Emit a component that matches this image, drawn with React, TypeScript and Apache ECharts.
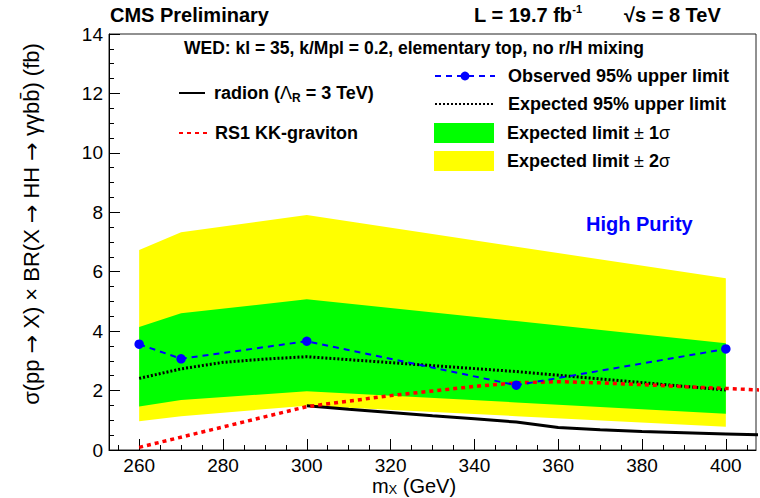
import React, { useEffect, useRef } from 'react';
import * as echarts from 'echarts';

// ---- data ----
const massPoints = [260, 270, 300, 350, 400];
const observed = [3.56, 3.07, 3.66, 2.18, 3.4];
const band2Low = [0.97, 1.14, 1.49, 1.14, 0.78];
const band2High = [6.73, 7.33, 7.91, 6.84, 5.78];
const band1Low = [1.46, 1.68, 1.98, 1.6, 1.22];
const band1High = [4.14, 4.6, 5.07, 4.34, 3.59];
const expectedMass = [260, 270, 280, 290, 300, 350, 400];
const expected = [2.41, 2.73, 2.95, 3.06, 3.14, 2.64, 2.02];
const radionMass = [300, 310, 320, 330, 340, 350, 355, 360, 370, 380, 390, 400, 410];
const radion = [1.49, 1.37, 1.26, 1.15, 1.05, 0.94, 0.85, 0.76, 0.68, 0.62, 0.58, 0.54, 0.5];
const gravitonMass = [260, 300, 320, 340, 350, 360, 370, 380, 390, 400, 410];
const graviton = [0.09, 1.46, 1.83, 2.14, 2.26, 2.3, 2.26, 2.2, 2.13, 2.07, 2.01];

const xMajorTicks = [260, 280, 300, 320, 340, 360, 380, 400];
const xMinorTicks = [255, 265, 270, 275, 285, 290, 295, 305, 310, 315, 325, 330, 335, 345, 350, 355, 365, 370, 375, 385, 390, 395, 405];

const FONT = '"Liberation Sans", Arial, Helvetica, sans-serif';
const ARROW_FONT = '"DejaVu Sans", sans-serif';

const pairs = (xs: number[], ys: number[]) => xs.map((x, i) => [x, ys[i]]);

function bandSeries(name: string, low: number[], high: number[], color: string) {
  return {
    name,
    type: 'custom',
    silent: true,
    clip: true,
    itemStyle: { color },
    encode: { x: 0, y: [1, 2] },
    data: massPoints.map((x, i) => [x, low[i], high[i]]),
    renderItem: (params: any, api: any) => {
      if (params.dataIndex !== 0) return null;
      const up = massPoints.map((x, i) => api.coord([x, high[i]]));
      const lo = massPoints.map((x, i) => api.coord([x, low[i]])).reverse();
      return {
        type: 'polygon',
        shape: { points: up.concat(lo) },
        style: { fill: color, stroke: null },
      };
    },
  };
}

export default function App() {
  const ref = useRef<HTMLDivElement>(null);

  useEffect(() => {
    if (!ref.current) return;
    const chart = echarts.init(ref.current, null, { renderer: 'svg' });

    const legendText = {
      fontFamily: FONT,
      fontSize: 18,
      fontWeight: 'bold',
      color: '#000',
      rich: {
        n: { fontFamily: FONT, fontSize: 18, fontWeight: 'normal', color: '#000', lineHeight: 22 },
        b: { fontFamily: FONT, fontSize: 18, fontWeight: 'bold', color: '#000', lineHeight: 22 },
        sub: { fontFamily: FONT, fontSize: 12, fontWeight: 'bold', color: '#000', lineHeight: 12, verticalAlign: 'bottom' },
      },
    };

    const option: any = {
      animation: false,
      backgroundColor: '#fff',
      grid: {
        left: 109,
        right: 4,
        top: 34,
        bottom: 48,
        show: true,
        borderColor: '#222',
        borderWidth: 1,
        containLabel: false,
        outerBoundsMode: 'none',
      },
      xAxis: [
        {
          type: 'value',
          min: 252.8,
          max: 407.2,
          position: 'bottom',
          axisLine: { show: true, lineStyle: { color: '#000', width: 1 } },
          axisTick: { show: true, inside: true, length: 11, customValues: xMajorTicks, lineStyle: { color: '#000' } },
          axisLabel: { customValues: xMajorTicks, margin: 6, fontSize: 19, color: '#000', fontFamily: FONT },
          splitLine: { show: false },
        },
        {
          type: 'value',
          min: 252.8,
          max: 407.2,
          position: 'bottom',
          axisLine: { show: false },
          axisTick: { show: true, inside: true, length: 5, customValues: xMinorTicks, lineStyle: { color: '#000' } },
          axisLabel: { show: false },
          splitLine: { show: false },
        },
      ],
      yAxis: {
        type: 'value',
        min: 0,
        max: 14,
        interval: 2,
        axisLine: { show: true, lineStyle: { color: '#000', width: 1 } },
        axisTick: { show: true, inside: true, length: 11, lineStyle: { color: '#000' } },
        minorTick: { show: true, splitNumber: 4, length: 5, lineStyle: { color: '#000' } },
        axisLabel: { margin: 6, fontSize: 19, color: '#000', fontFamily: FONT },
        splitLine: { show: false },
        minorSplitLine: { show: false },
      },
      legend: [
        {
          left: 178, top: 84, padding: 0, itemWidth: 26, itemHeight: 16, selectedMode: false,
          data: [{ name: 'radion', itemStyle: { opacity: 0 } }],
          formatter: () => '{b|radion (}{n|Λ}{sub|R}{b| = 3 TeV)}',
          textStyle: { ...legendText, padding: [0, 0, 0, 4] },
        },
        {
          left: 178, top: 124, padding: 0, itemWidth: 30, itemHeight: 16, selectedMode: false,
          data: [{ name: 'graviton', itemStyle: { opacity: 0 } }],
          formatter: () => '{b|RS1 KK-graviton}',
          textStyle: { ...legendText, padding: [0, 0, 0, 1] },
        },
        {
          left: 434, top: 67, padding: 0, itemWidth: 60, itemHeight: 11, selectedMode: false,
          data: [{ name: 'observed' }],
          formatter: () => '{b|Observed 95% upper limit}',
          textStyle: { ...legendText, padding: [0, 0, 0, 8] },
        },
        {
          left: 434, top: 95, padding: 0, itemWidth: 60, itemHeight: 16, selectedMode: false,
          data: [{ name: 'expected', itemStyle: { opacity: 0 } }],
          formatter: () => '{b|Expected 95% upper limit}',
          textStyle: { ...legendText, padding: [0, 0, 0, 8] },
        },
        {
          left: 434, top: 123, padding: 0, itemWidth: 60, itemHeight: 20, selectedMode: false,
          data: [{ name: 'band1', icon: 'rect', itemStyle: { color: '#00ff00', borderWidth: 0 } }],
          formatter: () => '{b|Expected limit }{n|±}{b| 1}{n|σ}',
          textStyle: { ...legendText, padding: [0, 0, 0, 8] },
        },
        {
          left: 434, top: 151, padding: 0, itemWidth: 60, itemHeight: 20, selectedMode: false,
          data: [{ name: 'band2', icon: 'rect', itemStyle: { color: '#ffff00', borderWidth: 0 } }],
          formatter: () => '{b|Expected limit }{n|±}{b| 2}{n|σ}',
          textStyle: { ...legendText, padding: [0, 0, 0, 8] },
        },
      ],
      series: [
        bandSeries('band2', band2Low, band2High, '#ffff00'),
        bandSeries('band1', band1Low, band1High, '#00ff00'),
        {
          name: 'expected', type: 'line', symbol: 'none', silent: true,
          itemStyle: { color: '#000' },
          lineStyle: { color: '#000', width: 3, type: [2, 2] },
          data: pairs(expectedMass, expected),
        },
        {
          name: 'radion', type: 'line', symbol: 'none', silent: true,
          itemStyle: { color: '#000' },
          lineStyle: { color: '#000', width: 3 },
          data: pairs(radionMass, radion),
        },
        {
          name: 'graviton', type: 'line', symbol: 'none', silent: true,
          itemStyle: { color: '#ff0000' },
          lineStyle: { color: '#ff0000', width: 3.5, type: [4, 4] },
          data: pairs(gravitonMass, graviton),
        },
        {
          name: 'observed', type: 'line', symbol: 'circle', symbolSize: 9.5, silent: true,
          itemStyle: { color: '#0000ff' },
          lineStyle: { color: '#0000ff', width: 2, type: [6, 5] },
          data: pairs(massPoints, observed),
        },
      ],
      graphic: [
        {
          type: 'text', x: 110, y: 15,
          style: { text: 'CMS Preliminary', font: `bold 20px ${FONT}`, fill: '#000', align: 'left', verticalAlign: 'middle' },
        },
        {
          type: 'text', x: 474, y: 15,
          style: {
            text: '{m|L = 19.7 fb}{s|-1}', align: 'left', verticalAlign: 'middle',
            rich: {
              m: { font: `bold 20px ${FONT}`, fill: '#000', lineHeight: 24 },
              s: { font: `bold 11px ${FONT}`, fill: '#000', lineHeight: 11, verticalAlign: 'top' },
            },
          },
        },
        {
          type: 'text', x: 624, y: 15,
          style: { text: '√s = 8 TeV', font: `bold 20px ${FONT}`, fill: '#000', align: 'left', verticalAlign: 'middle' },
        },
        {
          type: 'text', x: 414, y: 48,
          style: { text: 'WED: kl = 35, k/Mpl = 0.2, elementary top, no r/H mixing', font: `bold 17.5px ${FONT}`, fill: '#000', align: 'center', verticalAlign: 'middle' },
        },
        {
          type: 'text', x: 586, y: 224,
          style: { text: 'High Purity', font: `bold 20px ${FONT}`, fill: '#0000ff', align: 'left', verticalAlign: 'middle' },
        },
        {
          type: 'text', x: 414, y: 486,
          style: {
            text: '{a|m}{s|X}{a| (GeV)}', align: 'center', verticalAlign: 'middle',
            rich: {
              a: { font: `20px ${FONT}`, fill: '#000', lineHeight: 20 },
              s: { font: `13px ${FONT}`, fill: '#000', lineHeight: 13, verticalAlign: 'bottom' },
            },
          },
        },
        {
          type: 'text', x: 31, y: 224, rotation: Math.PI / 2,
          style: {
            text: '{t|σ(pp }{r|→}{t| X) × BR(X }{r|→}{t| HH }{r|→}{t| γγbb̄) (fb)}',
            align: 'center', verticalAlign: 'middle',
            rich: {
              t: { font: `22px ${FONT}`, fill: '#000', lineHeight: 24 },
              r: { font: `22px ${ARROW_FONT}`, fill: '#000', lineHeight: 24 },
            },
          },
        },
      ],
    };

    chart.setOption(option);
    return () => chart.dispose();
  }, []);

  return <div ref={ref} style={{ position: 'fixed', left: 0, top: 0, width: 760, height: 498 }} />;
}
